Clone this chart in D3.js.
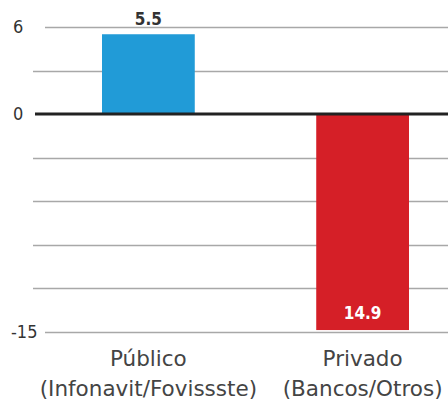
<!DOCTYPE html>
<html>
<head>
<meta charset="utf-8">
<script src="https://cdn.jsdelivr.net/npm/d3@7"></script>
<style>
  body { margin: 0; background: #fff; }
  svg { display: block; font-family: "DejaVu Sans Condensed", "DejaVu Sans", sans-serif; }
  .tick-label { font-size: 18px; fill: #333; }
  .cat { font-family: "DejaVu Sans", sans-serif; font-size: 21.5px; fill: #444; }
  .val { font-size: 17px; font-weight: bold; }
</style>
</head>
<body>
<script>
const categories = ["Público", "Privado"];
const subLabels = ["(Infonavit/Fovissste)", "(Bancos/Otros)"];
const values = [5.5, -14.9];
const valueLabels = ["5.5", "14.9"];
const colors = ["#219bd7", "#d51f27"];
const gridTicks = [6, 3, 0, -3, -6, -9, -12, -15];
const labeledTicks = [6, 0, -15];

const width = 448, height = 404;

const svg = d3.select("body").append("svg")
  .attr("width", width)
  .attr("height", height);

const y = d3.scaleLinear().domain([-15, 6]).range([331.5, 27]);
const x = d3.scaleBand().domain(categories).range([102, 409]).paddingInner(0.567).paddingOuter(0);

// gridlines
svg.append("g").selectAll("line")
  .data(gridTicks.filter(t => t !== 0))
  .enter().append("line")
  .attr("x1", d => labeledTicks.includes(d) ? 45 : 33)
  .attr("x2", width)
  .attr("y1", d => Math.round(y(d)) + 0.5)
  .attr("y2", d => Math.round(y(d)) + 0.5)
  .attr("stroke", "#a8a8a8")
  .attr("stroke-width", 1.5);

// tick labels
svg.append("g").selectAll("text")
  .data(labeledTicks)
  .enter().append("text")
  .attr("class", "tick-label")
  .attr("x", d => d < 0 ? 11 : 13)
  .attr("y", d => y(d) + 6)
  .text(d => d);

// bars
svg.append("g").selectAll("rect")
  .data(values)
  .enter().append("rect")
  .attr("x", (d, i) => x(categories[i]))
  .attr("width", x.bandwidth())
  .attr("y", d => y(Math.max(0, d)))
  .attr("height", d => Math.abs(y(d) - y(0)))
  .attr("fill", (d, i) => colors[i]);

// zero line
svg.append("line")
  .attr("x1", 35).attr("x2", width)
  .attr("y1", y(0)).attr("y2", y(0))
  .attr("stroke", "#222")
  .attr("stroke-width", 3);

// value labels
svg.append("g").selectAll("text")
  .data(values)
  .enter().append("text")
  .attr("class", "val")
  .attr("text-anchor", "middle")
  .attr("x", (d, i) => x(categories[i]) + x.bandwidth() / 2)
  .attr("y", d => d > 0 ? y(d) - 9 : y(d) - 11)
  .attr("fill", d => d > 0 ? "#333" : "#fff")
  .text((d, i) => valueLabels[i]);

// category labels
const cat = svg.append("g").selectAll("text")
  .data(categories)
  .enter().append("text")
  .attr("class", "cat")
  .attr("text-anchor", "middle")
  .attr("x", d => x(d) + x.bandwidth() / 2)
  .attr("y", 366);
cat.append("tspan").text(d => d);
cat.append("tspan")
  .attr("x", d => x(d) + x.bandwidth() / 2)
  .attr("dy", 30)
  .text((d, i) => subLabels[i]);
</script>
</body>
</html>
